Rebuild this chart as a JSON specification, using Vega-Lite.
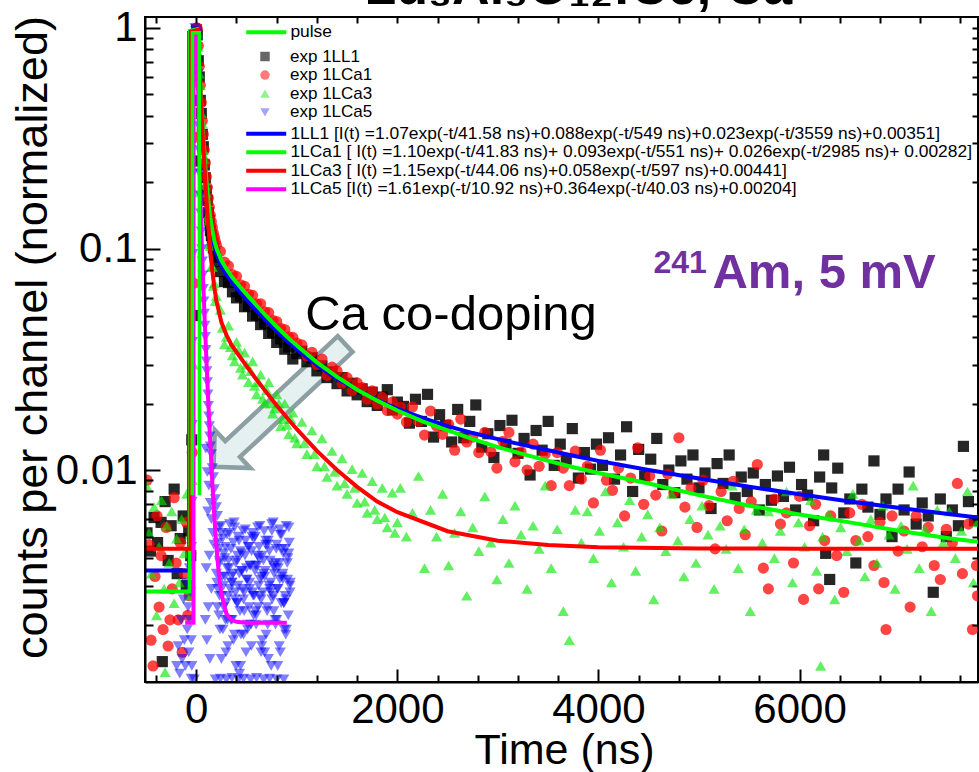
{
"$schema":"https://vega.github.io/schema/vega-lite/v6.json",
"width":833,"height":665,
"autosize":{"type":"none"},
"padding":{"left":145,"top":17,"right":1,"bottom":90},
"background":"white",
"config":{"view":{"stroke":"black","strokeWidth":2},"font":"Liberation Sans"},
"datasets":{
"fits":[
{"s":"f1","t":-510,"v":0.00351},{"s":"f1","t":-72,"v":0.00351},{"s":"f1","t":-70,"v":0.95},{"s":"f1","t":10,"v":0.954},{"s":"f1","t":20,"v":0.773},{"s":"f1","t":30,"v":0.63},{"s":"f1","t":40,"v":0.517},{"s":"f1","t":50,"v":0.428},{"s":"f1","t":60,"v":0.358},{"s":"f1","t":70,"v":0.302},{"s":"f1","t":80,"v":0.258},{"s":"f1","t":90,"v":0.223},{"s":"f1","t":100,"v":0.196},{"s":"f1","t":120,"v":0.156},{"s":"f1","t":140,"v":0.131},{"s":"f1","t":160,"v":0.114},{"s":"f1","t":180,"v":0.103},{"s":"f1","t":200,"v":0.0951},{"s":"f1","t":250,"v":0.0834},{"s":"f1","t":300,"v":0.0764},{"s":"f1","t":350,"v":0.0711},{"s":"f1","t":400,"v":0.0666},{"s":"f1","t":450,"v":0.0626},{"s":"f1","t":500,"v":0.0589},{"s":"f1","t":600,"v":0.0525},{"s":"f1","t":700,"v":0.047},{"s":"f1","t":800,"v":0.0424},{"s":"f1","t":900,"v":0.0385},{"s":"f1","t":1000,"v":0.0351},{"s":"f1","t":1200,"v":0.0298},{"s":"f1","t":1400,"v":0.0259},{"s":"f1","t":1600,"v":0.023},{"s":"f1","t":1800,"v":0.0207},{"s":"f1","t":2000,"v":0.0189},{"s":"f1","t":2250,"v":0.0172},{"s":"f1","t":2500,"v":0.0158},{"s":"f1","t":2750,"v":0.0147},{"s":"f1","t":3000,"v":0.0138},{"s":"f1","t":3250,"v":0.013},{"s":"f1","t":3500,"v":0.0123},{"s":"f1","t":3750,"v":0.0116},{"s":"f1","t":4000,"v":0.011},{"s":"f1","t":4500,"v":0.01},{"s":"f1","t":5000,"v":0.00915},{"s":"f1","t":5500,"v":0.00841},{"s":"f1","t":6000,"v":0.00777},{"s":"f1","t":6500,"v":0.00721},{"s":"f1","t":7000,"v":0.00673},{"s":"f1","t":7500,"v":0.00631},{"s":"f1","t":7780,"v":0.0061},
{"s":"f2","t":-510,"v":0.00282},{"s":"f2","t":-66,"v":0.00282},{"s":"f2","t":-64,"v":0.97},{"s":"f2","t":10,"v":0.986},{"s":"f2","t":20,"v":0.8},{"s":"f2","t":30,"v":0.654},{"s":"f2","t":40,"v":0.538},{"s":"f2","t":50,"v":0.446},{"s":"f2","t":60,"v":0.374},{"s":"f2","t":70,"v":0.317},{"s":"f2","t":80,"v":0.271},{"s":"f2","t":90,"v":0.235},{"s":"f2","t":100,"v":0.206},{"s":"f2","t":120,"v":0.165},{"s":"f2","t":140,"v":0.138},{"s":"f2","t":160,"v":0.121},{"s":"f2","t":180,"v":0.109},{"s":"f2","t":200,"v":0.101},{"s":"f2","t":250,"v":0.0886},{"s":"f2","t":300,"v":0.0812},{"s":"f2","t":350,"v":0.0752},{"s":"f2","t":400,"v":0.0705},{"s":"f2","t":450,"v":0.0663},{"s":"f2","t":500,"v":0.0623},{"s":"f2","t":600,"v":0.0555},{"s":"f2","t":700,"v":0.0495},{"s":"f2","t":800,"v":0.0445},{"s":"f2","t":900,"v":0.0402},{"s":"f2","t":1000,"v":0.0366},{"s":"f2","t":1200,"v":0.0307},{"s":"f2","t":1400,"v":0.0264},{"s":"f2","t":1600,"v":0.0231},{"s":"f2","t":1800,"v":0.0206},{"s":"f2","t":2000,"v":0.0186},{"s":"f2","t":2250,"v":0.0166},{"s":"f2","t":2500,"v":0.0151},{"s":"f2","t":2750,"v":0.0138},{"s":"f2","t":3000,"v":0.0127},{"s":"f2","t":3250,"v":0.0118},{"s":"f2","t":3500,"v":0.011},{"s":"f2","t":3750,"v":0.0103},{"s":"f2","t":4000,"v":0.0097},{"s":"f2","t":4500,"v":0.0087},{"s":"f2","t":5000,"v":0.0077},{"s":"f2","t":5500,"v":0.0069},{"s":"f2","t":6000,"v":0.0063},{"s":"f2","t":6500,"v":0.0058},{"s":"f2","t":7000,"v":0.0053},{"s":"f2","t":7500,"v":0.0049},{"s":"f2","t":7780,"v":0.00474},
{"s":"f3","t":-510,"v":0.00441},{"s":"f3","t":-56,"v":0.00441},{"s":"f3","t":-54,"v":0.96},{"s":"f3","t":10,"v":0.978},{"s":"f3","t":20,"v":0.791},{"s":"f3","t":30,"v":0.642},{"s":"f3","t":40,"v":0.5225},{"s":"f3","t":50,"v":0.427},{"s":"f3","t":60,"v":0.3515},{"s":"f3","t":70,"v":0.2908},{"s":"f3","t":80,"v":0.2422},{"s":"f3","t":90,"v":0.2034},{"s":"f3","t":100,"v":0.1724},{"s":"f3","t":110,"v":0.1473},{"s":"f3","t":120,"v":0.1273},{"s":"f3","t":130,"v":0.1111},{"s":"f3","t":140,"v":0.0982},{"s":"f3","t":150,"v":0.0877},{"s":"f3","t":160,"v":0.0793},{"s":"f3","t":180,"v":0.0666},{"s":"f3","t":200,"v":0.0582},{"s":"f3","t":250,"v":0.0466},{"s":"f3","t":300,"v":0.0408},{"s":"f3","t":350,"v":0.0368},{"s":"f3","t":400,"v":0.0342},{"s":"f3","t":500,"v":0.0295},{"s":"f3","t":600,"v":0.0256},{"s":"f3","t":700,"v":0.0224},{"s":"f3","t":800,"v":0.0196},{"s":"f3","t":900,"v":0.0173},{"s":"f3","t":1000,"v":0.0153},{"s":"f3","t":1200,"v":0.0122},{"s":"f3","t":1400,"v":0.01},{"s":"f3","t":1600,"v":0.0084},{"s":"f3","t":1800,"v":0.0072},{"s":"f3","t":2000,"v":0.00645},{"s":"f3","t":2500,"v":0.00529},{"s":"f3","t":3000,"v":0.00479},{"s":"f3","t":3500,"v":0.00458},{"s":"f3","t":4000,"v":0.00448},{"s":"f3","t":5000,"v":0.00442},{"s":"f3","t":6000,"v":0.00441},{"s":"f3","t":7780,"v":0.00441},
{"s":"f4","t":-110,"v":0.00204},{"s":"f4","t":-28,"v":0.00204},{"s":"f4","t":-26,"v":0.93},{"s":"f4","t":10,"v":0.93},{"s":"f4","t":15,"v":0.66},{"s":"f4","t":20,"v":0.481},{"s":"f4","t":25,"v":0.36},{"s":"f4","t":30,"v":0.277},{"s":"f4","t":35,"v":0.219},{"s":"f4","t":40,"v":0.177},{"s":"f4","t":50,"v":0.123},{"s":"f4","t":60,"v":0.0899},{"s":"f4","t":70,"v":0.068},{"s":"f4","t":80,"v":0.0525},{"s":"f4","t":90,"v":0.0408},{"s":"f4","t":100,"v":0.0321},{"s":"f4","t":110,"v":0.0254},{"s":"f4","t":120,"v":0.0202},{"s":"f4","t":130,"v":0.0162},{"s":"f4","t":140,"v":0.0131},{"s":"f4","t":160,"v":0.0087},{"s":"f4","t":180,"v":0.0061},{"s":"f4","t":200,"v":0.0045},{"s":"f4","t":225,"v":0.00336},{"s":"f4","t":250,"v":0.00275},{"s":"f4","t":300,"v":0.00224},{"s":"f4","t":350,"v":0.0021},{"s":"f4","t":400,"v":0.00206},{"s":"f4","t":500,"v":0.00204},{"s":"f4","t":900,"v":0.00204}
],
"pulse":[{"s":"pulse","t":-40,"v":0.0077},{"s":"pulse","t":-38,"v":0.95},{"s":"pulse","t":30,"v":0.95},{"s":"pulse","t":32,"v":0.0077}],
"pts":[
{"s":"a","t":-490,"v":0.0052},{"s":"a","t":-455,"v":0.0043},{"s":"a","t":-420,"v":0.0061},{"s":"a","t":-385,"v":0.0047},{"s":"a","t":-350,"v":0.0058},{"s":"a","t":-338,"v":0.00136},{"s":"a","t":-310,"v":0.0072},{"s":"a","t":-280,"v":0.0039},{"s":"a","t":-250,"v":0.0056},{"s":"a","t":-220,"v":0.0082},{"s":"a","t":-190,"v":0.0034},{"s":"a","t":-160,"v":0.0049},{"s":"a","t":-130,"v":0.0062},{"s":"a","t":-100,"v":0.003},{"s":"a","t":-75,"v":0.0053},{"s":"a","t":-55,"v":0.0041},{"s":"a","t":-45,"v":0.0137},{"s":"a","t":-30,"v":0.05},{"s":"a","t":-15,"v":0.25},{"s":"a","t":-5,"v":0.72},{"s":"a","t":2,"v":0.98},
{"s":"a","t":10,"v":0.93},{"s":"a","t":20,"v":0.71},{"s":"a","t":30,"v":0.6},{"s":"a","t":40,"v":0.47},{"s":"a","t":50,"v":0.41},{"s":"a","t":60,"v":0.33},{"s":"a","t":70,"v":0.29},{"s":"a","t":80,"v":0.24},{"s":"a","t":90,"v":0.21},{"s":"a","t":100,"v":0.183},{"s":"a","t":110,"v":0.166},{"s":"a","t":120,"v":0.146},{"s":"a","t":130,"v":0.135},{"s":"a","t":140,"v":0.121},{"s":"a","t":150,"v":0.115},{"s":"a","t":160,"v":0.106},{"s":"a","t":170,"v":0.101},{"s":"a","t":180,"v":0.096},{"s":"a","t":190,"v":0.092},{"s":"a","t":200,"v":0.088},
{"s":"a","t":240,"v":0.079},{"s":"a","t":280,"v":0.0712},{"s":"a","t":320,"v":0.0705},{"s":"a","t":360,"v":0.064},{"s":"a","t":400,"v":0.0601},{"s":"a","t":440,"v":0.0612},{"s":"a","t":480,"v":0.0548},{"s":"a","t":520,"v":0.0552},{"s":"a","t":560,"v":0.0497},{"s":"a","t":600,"v":0.0503},{"s":"a","t":640,"v":0.0455},{"s":"a","t":680,"v":0.0462},{"s":"a","t":720,"v":0.0415},{"s":"a","t":760,"v":0.0421},{"s":"a","t":800,"v":0.0378},{"s":"a","t":840,"v":0.0392},{"s":"a","t":880,"v":0.0352},{"s":"a","t":920,"v":0.036},{"s":"a","t":960,"v":0.0318},{"s":"a","t":1000,"v":0.0336},
{"s":"a","t":1050,"v":0.0345},{"s":"a","t":1100,"v":0.0309},{"s":"a","t":1150,"v":0.0322},{"s":"a","t":1200,"v":0.0281},{"s":"a","t":1250,"v":0.0296},{"s":"a","t":1300,"v":0.0262},{"s":"a","t":1350,"v":0.0278},{"s":"a","t":1400,"v":0.0246},{"s":"a","t":1450,"v":0.0262},{"s":"a","t":1500,"v":0.0228},{"s":"a","t":1550,"v":0.0247},{"s":"a","t":1600,"v":0.0219},{"s":"a","t":1650,"v":0.0233},{"s":"a","t":1700,"v":0.0204},{"s":"a","t":1750,"v":0.0225},{"s":"a","t":1800,"v":0.0196},{"s":"a","t":1850,"v":0.0214},{"s":"a","t":1900,"v":0.0231},{"s":"a","t":1950,"v":0.0187},{"s":"a","t":2000,"v":0.0203},
{"s":"a","t":2060,"v":0.0194},{"s":"a","t":2120,"v":0.0163},{"s":"a","t":2180,"v":0.0209},{"s":"a","t":2240,"v":0.0166},{"s":"a","t":2300,"v":0.022},{"s":"a","t":2360,"v":0.0141},{"s":"a","t":2420,"v":0.0178},{"s":"a","t":2480,"v":0.0159},{"s":"a","t":2540,"v":0.0134},{"s":"a","t":2600,"v":0.0188},{"s":"a","t":2660,"v":0.014},{"s":"a","t":2720,"v":0.0166},{"s":"a","t":2780,"v":0.0197},{"s":"a","t":2840,"v":0.0127},{"s":"a","t":2900,"v":0.0146},{"s":"a","t":2960,"v":0.0114},{"s":"a","t":3020,"v":0.0159},{"s":"a","t":3080,"v":0.0131},{"s":"a","t":3140,"v":0.0168},{"s":"a","t":3200,"v":0.0119},{"s":"a","t":3260,"v":0.0139},{"s":"a","t":3320,"v":0.0095},{"s":"a","t":3380,"v":0.0151},{"s":"a","t":3440,"v":0.0123},{"s":"a","t":3500,"v":0.0166},{"s":"a","t":3560,"v":0.0105},{"s":"a","t":3620,"v":0.0131},{"s":"a","t":3680,"v":0.0112},{"s":"a","t":3740,"v":0.0154},{"s":"a","t":3800,"v":0.0092},{"s":"a","t":3860,"v":0.012},{"s":"a","t":3920,"v":0.0101},{"s":"a","t":3980,"v":0.0131},{"s":"a","t":4040,"v":0.0105},{"s":"a","t":4100,"v":0.014},{"s":"a","t":4160,"v":0.0091},{"s":"a","t":4220,"v":0.0117},{"s":"a","t":4280,"v":0.0157},{"s":"a","t":4340,"v":0.008},{"s":"a","t":4400,"v":0.0124},{"s":"a","t":4460,"v":0.0094},{"s":"a","t":4520,"v":0.0112},{"s":"a","t":4580,"v":0.0139},{"s":"a","t":4640,"v":0.0086},{"s":"a","t":4700,"v":0.01},{"s":"a","t":4760,"v":0.0079},{"s":"a","t":4820,"v":0.011},{"s":"a","t":4880,"v":0.0091},{"s":"a","t":4940,"v":0.0117},{"s":"a","t":5000,"v":0.0083},{"s":"a","t":5060,"v":0.0097},{"s":"a","t":5120,"v":0.0067},{"s":"a","t":5180,"v":0.0107},{"s":"a","t":5240,"v":0.0087},{"s":"a","t":5300,"v":0.0117},{"s":"a","t":5360,"v":0.0075},{"s":"a","t":5420,"v":0.0093},{"s":"a","t":5480,"v":0.008},{"s":"a","t":5540,"v":0.0097},{"s":"a","t":5600,"v":0.0066},{"s":"a","t":5660,"v":0.0086},{"s":"a","t":5720,"v":0.0073},{"s":"a","t":5780,"v":0.0094},{"s":"a","t":5840,"v":0.0076},{"s":"a","t":5900,"v":0.0103},{"s":"a","t":5960,"v":0.0066},{"s":"a","t":6020,"v":0.0086},{"s":"a","t":6080,"v":0.0077},{"s":"a","t":6140,"v":0.0059},{"s":"a","t":6200,"v":0.0093},{"s":"a","t":6240,"v":0.0117},{"s":"a","t":6260,"v":0.0042},{"s":"a","t":6300,"v":0.0032},{"s":"a","t":6320,"v":0.0083},{"s":"a","t":6380,"v":0.0102},{"s":"a","t":6440,"v":0.0064},{"s":"a","t":6500,"v":0.0074},{"s":"a","t":6560,"v":0.0038},{"s":"a","t":6620,"v":0.0082},{"s":"a","t":6680,"v":0.0068},{"s":"a","t":6740,"v":0.011},{"s":"a","t":6800,"v":0.0063},{"s":"a","t":6860,"v":0.0074},{"s":"a","t":6920,"v":0.005},{"s":"a","t":6980,"v":0.0082},{"s":"a","t":7040,"v":0.0066},{"s":"a","t":7090,"v":0.0098},{"s":"a","t":7160,"v":0.0057},{"s":"a","t":7220,"v":0.0071},{"s":"a","t":7280,"v":0.0062},{"s":"a","t":7330,"v":0.0028},{"s":"a","t":7400,"v":0.0074},{"s":"a","t":7460,"v":0.005},{"s":"a","t":7520,"v":0.0066},{"s":"a","t":7580,"v":0.0056},{"s":"a","t":7630,"v":0.0128},{"s":"a","t":7680,"v":0.0072},{"s":"a","t":7740,"v":0.0059},
{"s":"b","t":-490,"v":0.009},{"s":"b","t":-470,"v":0.0046},{"s":"b","t":-450,"v":0.0017},{"s":"b","t":-430,"v":0.0013},{"s":"b","t":-410,"v":0.0033},{"s":"b","t":-390,"v":0.0062},{"s":"b","t":-370,"v":0.0024},{"s":"b","t":-350,"v":0.0041},{"s":"b","t":-330,"v":0.0019},{"s":"b","t":-300,"v":0.0055},{"s":"b","t":-280,"v":0.0016},{"s":"b","t":-262,"v":0.0021},{"s":"b","t":-240,"v":0.0029},{"s":"b","t":-220,"v":0.0075},{"s":"b","t":-200,"v":0.0038},{"s":"b","t":-180,"v":0.0021},{"s":"b","t":-160,"v":0.0047},{"s":"b","t":-140,"v":0.0015},{"s":"b","t":-120,"v":0.0034},{"s":"b","t":-100,"v":0.0058},{"s":"b","t":-85,"v":0.0022},{"s":"b","t":-70,"v":0.0027},{"s":"b","t":-55,"v":0.0042},{"s":"b","t":-40,"v":0.012},{"s":"b","t":-25,"v":0.07},{"s":"b","t":-12,"v":0.32},{"s":"b","t":-3,"v":0.8},{"s":"b","t":3,"v":1.0},
{"s":"b","t":10,"v":0.99},{"s":"b","t":20,"v":0.83},{"s":"b","t":30,"v":0.67},{"s":"b","t":40,"v":0.55},{"s":"b","t":50,"v":0.46},{"s":"b","t":60,"v":0.38},{"s":"b","t":70,"v":0.33},{"s":"b","t":80,"v":0.28},{"s":"b","t":90,"v":0.245},{"s":"b","t":100,"v":0.212},{"s":"b","t":110,"v":0.19},{"s":"b","t":120,"v":0.17},{"s":"b","t":130,"v":0.155},{"s":"b","t":140,"v":0.142},{"s":"b","t":150,"v":0.133},{"s":"b","t":160,"v":0.125},{"s":"b","t":170,"v":0.118},{"s":"b","t":180,"v":0.113},{"s":"b","t":190,"v":0.108},{"s":"b","t":200,"v":0.104},
{"s":"b","t":240,"v":0.0975},{"s":"b","t":280,"v":0.0872},{"s":"b","t":320,"v":0.0838},{"s":"b","t":360,"v":0.0765},{"s":"b","t":400,"v":0.0752},{"s":"b","t":440,"v":0.0689},{"s":"b","t":480,"v":0.0678},{"s":"b","t":520,"v":0.0624},{"s":"b","t":560,"v":0.0617},{"s":"b","t":600,"v":0.0565},{"s":"b","t":640,"v":0.0565},{"s":"b","t":680,"v":0.052},{"s":"b","t":720,"v":0.0515},{"s":"b","t":760,"v":0.0475},{"s":"b","t":800,"v":0.047},{"s":"b","t":840,"v":0.0437},{"s":"b","t":880,"v":0.0432},{"s":"b","t":920,"v":0.04},{"s":"b","t":960,"v":0.0398},{"s":"b","t":1000,"v":0.0375},
{"s":"b","t":1050,"v":0.0368},{"s":"b","t":1100,"v":0.0329},{"s":"b","t":1150,"v":0.0341},{"s":"b","t":1200,"v":0.03},{"s":"b","t":1250,"v":0.0318},{"s":"b","t":1300,"v":0.0268},{"s":"b","t":1350,"v":0.0292},{"s":"b","t":1400,"v":0.0281},{"s":"b","t":1450,"v":0.0247},{"s":"b","t":1500,"v":0.0262},{"s":"b","t":1550,"v":0.0229},{"s":"b","t":1600,"v":0.0248},{"s":"b","t":1650,"v":0.0236},{"s":"b","t":1700,"v":0.0209},{"s":"b","t":1750,"v":0.0228},{"s":"b","t":1800,"v":0.0199},{"s":"b","t":1850,"v":0.0213},{"s":"b","t":1900,"v":0.0186},{"s":"b","t":1950,"v":0.0203},{"s":"b","t":2000,"v":0.0179},
{"s":"b","t":2030,"v":0.0193},{"s":"b","t":2090,"v":0.0165},{"s":"b","t":2150,"v":0.0193},{"s":"b","t":2210,"v":0.0166},{"s":"b","t":2270,"v":0.0144},{"s":"b","t":2330,"v":0.0185},{"s":"b","t":2390,"v":0.0158},{"s":"b","t":2450,"v":0.0145},{"s":"b","t":2510,"v":0.0161},{"s":"b","t":2570,"v":0.0123},{"s":"b","t":2630,"v":0.017},{"s":"b","t":2690,"v":0.0134},{"s":"b","t":2750,"v":0.0141},{"s":"b","t":2810,"v":0.012},{"s":"b","t":2870,"v":0.0148},{"s":"b","t":2930,"v":0.0121},{"s":"b","t":2990,"v":0.0102},{"s":"b","t":3050,"v":0.0135},{"s":"b","t":3110,"v":0.0148},{"s":"b","t":3170,"v":0.0109},{"s":"b","t":3230,"v":0.0121},{"s":"b","t":3290,"v":0.01},{"s":"b","t":3350,"v":0.0131},{"s":"b","t":3410,"v":0.0104},{"s":"b","t":3470,"v":0.0118},{"s":"b","t":3530,"v":0.0085},{"s":"b","t":3590,"v":0.012},{"s":"b","t":3650,"v":0.0102},{"s":"b","t":3710,"v":0.0085},{"s":"b","t":3770,"v":0.0122},{"s":"b","t":3830,"v":0.0091},{"s":"b","t":3890,"v":0.0104},{"s":"b","t":3950,"v":0.0071},{"s":"b","t":4020,"v":0.0123},{"s":"b","t":4080,"v":0.009},{"s":"b","t":4140,"v":0.0081},{"s":"b","t":4200,"v":0.0102},{"s":"b","t":4260,"v":0.0062},{"s":"b","t":4320,"v":0.0092},{"s":"b","t":4390,"v":0.0126},{"s":"b","t":4450,"v":0.007},{"s":"b","t":4510,"v":0.0094},{"s":"b","t":4570,"v":0.0077},{"s":"b","t":4630,"v":0.0053},{"s":"b","t":4690,"v":0.0096},{"s":"b","t":4750,"v":0.0079},{"s":"b","t":4800,"v":0.014},{"s":"b","t":4860,"v":0.0068},{"s":"b","t":4920,"v":0.0083},{"s":"b","t":4980,"v":0.0055},{"s":"b","t":5040,"v":0.009},{"s":"b","t":5100,"v":0.0069},{"s":"b","t":5160,"v":0.0044},{"s":"b","t":5220,"v":0.008},{"s":"b","t":5280,"v":0.0059},{"s":"b","t":5340,"v":0.0089},{"s":"b","t":5400,"v":0.0067},{"s":"b","t":5460,"v":0.0051},{"s":"b","t":5520,"v":0.0072},{"s":"b","t":5580,"v":0.0106},{"s":"b","t":5640,"v":0.0036},{"s":"b","t":5690,"v":0.0029},{"s":"b","t":5750,"v":0.0074},{"s":"b","t":5810,"v":0.0057},{"s":"b","t":5870,"v":0.0064},{"s":"b","t":5940,"v":0.0038},{"s":"b","t":6000,"v":0.0076},{"s":"b","t":6040,"v":0.0026},{"s":"b","t":6100,"v":0.0056},{"s":"b","t":6160,"v":0.007},{"s":"b","t":6190,"v":0.0029},{"s":"b","t":6250,"v":0.0048},{"s":"b","t":6310,"v":0.0062},{"s":"b","t":6370,"v":0.0041},{"s":"b","t":6440,"v":0.0028},{"s":"b","t":6500,"v":0.0064},{"s":"b","t":6560,"v":0.0048},{"s":"b","t":6620,"v":0.007},{"s":"b","t":6680,"v":0.005},{"s":"b","t":6740,"v":0.0037},{"s":"b","t":6800,"v":0.0058},{"s":"b","t":6840,"v":0.0031},{"s":"b","t":6860,"v":0.0019},{"s":"b","t":6920,"v":0.0062},{"s":"b","t":6980,"v":0.0043},{"s":"b","t":7040,"v":0.0053},{"s":"b","t":7100,"v":0.0024},{"s":"b","t":7160,"v":0.0062},{"s":"b","t":7220,"v":0.0045},{"s":"b","t":7280,"v":0.0055},{"s":"b","t":7340,"v":0.0037},{"s":"b","t":7400,"v":0.0032},{"s":"b","t":7460,"v":0.0054},{"s":"b","t":7520,"v":0.0047},{"s":"b","t":7570,"v":0.0087},{"s":"b","t":7620,"v":0.0034},{"s":"b","t":7680,"v":0.0057},{"s":"b","t":7720,"v":0.0019},{"s":"b","t":7760,"v":0.0037},{"s":"b","t":7770,"v":0.0027},
{"s":"c","t":-495,"v":0.0085},{"s":"c","t":-470,"v":0.0052},{"s":"c","t":-445,"v":0.0034},{"s":"c","t":-420,"v":0.0068},{"s":"c","t":-395,"v":0.0022},{"s":"c","t":-370,"v":0.0045},{"s":"c","t":-345,"v":0.0073},{"s":"c","t":-320,"v":0.0029},{"s":"c","t":-310,"v":0.00122},{"s":"c","t":-295,"v":0.0056},{"s":"c","t":-270,"v":0.0038},{"s":"c","t":-245,"v":0.0065},{"s":"c","t":-220,"v":0.0025},{"s":"c","t":-195,"v":0.0049},{"s":"c","t":-170,"v":0.0031},{"s":"c","t":-145,"v":0.006},{"s":"c","t":-120,"v":0.0042},{"s":"c","t":-95,"v":0.0078},{"s":"c","t":-75,"v":0.0027},{"s":"c","t":-55,"v":0.0051},{"s":"c","t":-40,"v":0.009},{"s":"c","t":-28,"v":0.03},{"s":"c","t":-15,"v":0.18},{"s":"c","t":-5,"v":0.6},{"s":"c","t":3,"v":0.97},
{"s":"c","t":10,"v":0.95},{"s":"c","t":20,"v":0.82},{"s":"c","t":30,"v":0.62},{"s":"c","t":40,"v":0.55},{"s":"c","t":50,"v":0.41},{"s":"c","t":60,"v":0.37},{"s":"c","t":70,"v":0.28},{"s":"c","t":80,"v":0.255},{"s":"c","t":90,"v":0.195},{"s":"c","t":100,"v":0.18},{"s":"c","t":110,"v":0.14},{"s":"c","t":120,"v":0.134},{"s":"c","t":130,"v":0.105},{"s":"c","t":140,"v":0.103},{"s":"c","t":150,"v":0.083},{"s":"c","t":160,"v":0.083},{"s":"c","t":170,"v":0.068},{"s":"c","t":180,"v":0.07},{"s":"c","t":190,"v":0.058},{"s":"c","t":200,"v":0.061},
{"s":"c","t":240,"v":0.053},{"s":"c","t":280,"v":0.037},{"s":"c","t":320,"v":0.045},{"s":"c","t":360,"v":0.033},{"s":"c","t":400,"v":0.038},{"s":"c","t":440,"v":0.029},{"s":"c","t":480,"v":0.034},{"s":"c","t":520,"v":0.025},{"s":"c","t":560,"v":0.031},{"s":"c","t":600,"v":0.022},{"s":"c","t":640,"v":0.027},{"s":"c","t":680,"v":0.02},{"s":"c","t":720,"v":0.025},{"s":"c","t":760,"v":0.018},{"s":"c","t":800,"v":0.022},{"s":"c","t":840,"v":0.0158},{"s":"c","t":880,"v":0.02},{"s":"c","t":920,"v":0.0145},{"s":"c","t":960,"v":0.0182},{"s":"c","t":1000,"v":0.0132},
{"s":"c","t":260,"v":0.044},{"s":"c","t":300,"v":0.04},{"s":"c","t":340,"v":0.036},{"s":"c","t":380,"v":0.031},{"s":"c","t":420,"v":0.035},{"s":"c","t":460,"v":0.027},{"s":"c","t":500,"v":0.03},{"s":"c","t":540,"v":0.028},{"s":"c","t":580,"v":0.024},{"s":"c","t":620,"v":0.025},{"s":"c","t":660,"v":0.021},{"s":"c","t":700,"v":0.023},{"s":"c","t":740,"v":0.02},{"s":"c","t":780,"v":0.019},{"s":"c","t":820,"v":0.02},{"s":"c","t":860,"v":0.017},{"s":"c","t":900,"v":0.016},{"s":"c","t":940,"v":0.017},{"s":"c","t":980,"v":0.014},
{"s":"c","t":1050,"v":0.0165},{"s":"c","t":1100,"v":0.0118},{"s":"c","t":1150,"v":0.0151},{"s":"c","t":1200,"v":0.0104},{"s":"c","t":1250,"v":0.0139},{"s":"c","t":1300,"v":0.0093},{"s":"c","t":1350,"v":0.0122},{"s":"c","t":1400,"v":0.0085},{"s":"c","t":1450,"v":0.0113},{"s":"c","t":1500,"v":0.0078},{"s":"c","t":1550,"v":0.0101},{"s":"c","t":1600,"v":0.0071},{"s":"c","t":1650,"v":0.0097},{"s":"c","t":1700,"v":0.0064},{"s":"c","t":1750,"v":0.0089},{"s":"c","t":1800,"v":0.006},{"s":"c","t":1850,"v":0.0083},{"s":"c","t":1900,"v":0.0055},{"s":"c","t":1950,"v":0.0079},{"s":"c","t":2000,"v":0.0058},
{"s":"c","t":1075,"v":0.0132},{"s":"c","t":1175,"v":0.0118},{"s":"c","t":1275,"v":0.0104},{"s":"c","t":1375,"v":0.0098},{"s":"c","t":1475,"v":0.0087},{"s":"c","t":1575,"v":0.0083},{"s":"c","t":1675,"v":0.0072},{"s":"c","t":1775,"v":0.0066},{"s":"c","t":1875,"v":0.0061},{"s":"c","t":1975,"v":0.0052},
{"s":"c","t":2030,"v":0.0083},{"s":"c","t":2090,"v":0.005},{"s":"c","t":2150,"v":0.0064},{"s":"c","t":2210,"v":0.0094},{"s":"c","t":2270,"v":0.0036},{"s":"c","t":2330,"v":0.0066},{"s":"c","t":2390,"v":0.005},{"s":"c","t":2450,"v":0.0078},{"s":"c","t":2510,"v":0.0037},{"s":"c","t":2570,"v":0.0052},{"s":"c","t":2630,"v":0.0065},{"s":"c","t":2690,"v":0.0027},{"s":"c","t":2750,"v":0.0055},{"s":"c","t":2810,"v":0.0043},{"s":"c","t":2870,"v":0.0076},{"s":"c","t":2930,"v":0.0047},{"s":"c","t":2990,"v":0.0032},{"s":"c","t":3050,"v":0.006},{"s":"c","t":3110,"v":0.0038},{"s":"c","t":3170,"v":0.0069},{"s":"c","t":3230,"v":0.0051},{"s":"c","t":3290,"v":0.0029},{"s":"c","t":3350,"v":0.0056},{"s":"c","t":3410,"v":0.0044},{"s":"c","t":3470,"v":0.0085},{"s":"c","t":3530,"v":0.0036},{"s":"c","t":3590,"v":0.0054},{"s":"c","t":3650,"v":0.0023},{"s":"c","t":3710,"v":0.0017},{"s":"c","t":3770,"v":0.0066},{"s":"c","t":3830,"v":0.0047},{"s":"c","t":3890,"v":0.0065},{"s":"c","t":3950,"v":0.004},{"s":"c","t":4010,"v":0.0053},{"s":"c","t":4070,"v":0.008},{"s":"c","t":4130,"v":0.0031},{"s":"c","t":4190,"v":0.0058},{"s":"c","t":4250,"v":0.0045},{"s":"c","t":4310,"v":0.0073},{"s":"c","t":4370,"v":0.0035},{"s":"c","t":4430,"v":0.005},{"s":"c","t":4490,"v":0.0063},{"s":"c","t":4550,"v":0.0026},{"s":"c","t":4610,"v":0.0055},{"s":"c","t":4670,"v":0.0043},{"s":"c","t":4730,"v":0.0078},{"s":"c","t":4790,"v":0.0048},{"s":"c","t":4850,"v":0.0033},{"s":"c","t":4910,"v":0.006},{"s":"c","t":4970,"v":0.0038},{"s":"c","t":5030,"v":0.0069},{"s":"c","t":5090,"v":0.0051},{"s":"c","t":5150,"v":0.0029},{"s":"c","t":5210,"v":0.0056},{"s":"c","t":5270,"v":0.0044},{"s":"c","t":5330,"v":0.0085},{"s":"c","t":5390,"v":0.0036},{"s":"c","t":5450,"v":0.0054},{"s":"c","t":5510,"v":0.0023},{"s":"c","t":5570,"v":0.0066},{"s":"c","t":5630,"v":0.0047},{"s":"c","t":5690,"v":0.0065},{"s":"c","t":5750,"v":0.004},{"s":"c","t":5810,"v":0.0053},{"s":"c","t":5870,"v":0.008},{"s":"c","t":5930,"v":0.0031},{"s":"c","t":5990,"v":0.0058},{"s":"c","t":6050,"v":0.0045},{"s":"c","t":6110,"v":0.0073},{"s":"c","t":6170,"v":0.0035},{"s":"c","t":6210,"v":0.0013},{"s":"c","t":6230,"v":0.005},{"s":"c","t":6290,"v":0.0063},{"s":"c","t":6350,"v":0.0026},{"s":"c","t":6410,"v":0.0055},{"s":"c","t":6470,"v":0.0043},{"s":"c","t":6530,"v":0.0078},{"s":"c","t":6590,"v":0.0048},{"s":"c","t":6650,"v":0.0033},{"s":"c","t":6710,"v":0.006},{"s":"c","t":6770,"v":0.0038},{"s":"c","t":6830,"v":0.0069},{"s":"c","t":6890,"v":0.0051},{"s":"c","t":6950,"v":0.0029},{"s":"c","t":7010,"v":0.0056},{"s":"c","t":7070,"v":0.0044},{"s":"c","t":7130,"v":0.0085},{"s":"c","t":7190,"v":0.0036},{"s":"c","t":7250,"v":0.0054},{"s":"c","t":7310,"v":0.0023},{"s":"c","t":7370,"v":0.0066},{"s":"c","t":7430,"v":0.0047},{"s":"c","t":7490,"v":0.0065},{"s":"c","t":7550,"v":0.004},{"s":"c","t":7610,"v":0.0053},{"s":"c","t":7670,"v":0.008},{"s":"c","t":7730,"v":0.0031},{"s":"c","t":7770,"v":0.0058},
{"s":"d","t":-195,"v":0.0013},{"s":"d","t":-180,"v":0.0016},{"s":"d","t":-165,"v":0.0012},{"s":"d","t":-150,"v":0.0021},{"s":"d","t":-140,"v":0.0014},{"s":"d","t":-128,"v":0.0026},{"s":"d","t":-118,"v":0.0017},{"s":"d","t":-108,"v":0.0013},{"s":"d","t":-98,"v":0.0031},{"s":"d","t":-90,"v":0.0019},{"s":"d","t":-82,"v":0.0024},{"s":"d","t":-75,"v":0.0015},{"s":"d","t":-68,"v":0.0036},{"s":"d","t":-62,"v":0.0021},{"s":"d","t":-56,"v":0.0028},{"s":"d","t":-50,"v":0.0017},{"s":"d","t":-46,"v":0.0045},{"s":"d","t":-44,"v":0.0013},
{"s":"d","t":-42,"v":0.0072},{"s":"d","t":-40,"v":0.016},{"s":"d","t":-38,"v":0.038},{"s":"d","t":-35,"v":0.095},{"s":"d","t":-32,"v":0.22},{"s":"d","t":-29,"v":0.45},{"s":"d","t":-25,"v":0.72},{"s":"d","t":-20,"v":0.9},{"s":"d","t":-12,"v":1.0},{"s":"d","t":-4,"v":0.97},
{"s":"d","t":5,"v":0.95},{"s":"d","t":10,"v":0.88},{"s":"d","t":15,"v":0.62},{"s":"d","t":20,"v":0.47},{"s":"d","t":25,"v":0.36},{"s":"d","t":30,"v":0.28},{"s":"d","t":35,"v":0.22},{"s":"d","t":40,"v":0.175},{"s":"d","t":45,"v":0.145},{"s":"d","t":50,"v":0.12},{"s":"d","t":55,"v":0.1},{"s":"d","t":60,"v":0.088},{"s":"d","t":65,"v":0.076},{"s":"d","t":70,"v":0.066},{"s":"d","t":75,"v":0.058},{"s":"d","t":80,"v":0.051},{"s":"d","t":85,"v":0.045},{"s":"d","t":90,"v":0.04},{"s":"d","t":95,"v":0.035},{"s":"d","t":100,"v":0.031},{"s":"d","t":105,"v":0.028},{"s":"d","t":110,"v":0.025},{"s":"d","t":115,"v":0.022},{"s":"d","t":120,"v":0.0195},{"s":"d","t":125,"v":0.0175},{"s":"d","t":130,"v":0.0158},{"s":"d","t":135,"v":0.0142},{"s":"d","t":140,"v":0.0128},{"s":"d","t":150,"v":0.0118},{"s":"d","t":160,"v":0.0102},{"s":"d","t":170,"v":0.0093},{"s":"d","t":180,"v":0.0082},{"s":"d","t":190,"v":0.0074},{"s":"d","t":200,"v":0.0068},{"s":"d","t":210,"v":0.0062},{"s":"d","t":220,"v":0.0055},
{"s":"d","t":95,"v":0.0125},{"s":"d","t":110,"v":0.0098},{"s":"d","t":125,"v":0.0085},{"s":"d","t":140,"v":0.0071},{"s":"d","t":150,"v":0.006},{"s":"d","t":165,"v":0.0052},{"s":"d","t":175,"v":0.0046},{"s":"d","t":115,"v":0.0065},{"s":"d","t":130,"v":0.0041},{"s":"d","t":100,"v":0.0036},{"s":"d","t":150,"v":0.0029},{"s":"d","t":120,"v":0.0024},{"s":"d","t":90,"v":0.0021},{"s":"d","t":105,"v":0.0017},{"s":"d","t":135,"v":0.0014},
{"s":"d","t":205,"v":0.0031},{"s":"d","t":215,"v":0.0047},{"s":"d","t":225,"v":0.0022},{"s":"d","t":235,"v":0.0038},{"s":"d","t":245,"v":0.0056},{"s":"d","t":255,"v":0.0027},{"s":"d","t":265,"v":0.0019},{"s":"d","t":275,"v":0.0042},{"s":"d","t":285,"v":0.0033},{"s":"d","t":295,"v":0.0025},{"s":"d","t":305,"v":0.0051},{"s":"d","t":315,"v":0.0016},{"s":"d","t":325,"v":0.0036},{"s":"d","t":335,"v":0.0029},{"s":"d","t":345,"v":0.0044},{"s":"d","t":355,"v":0.0021},{"s":"d","t":365,"v":0.0034},{"s":"d","t":375,"v":0.0058},{"s":"d","t":385,"v":0.0026},{"s":"d","t":395,"v":0.0013},{"s":"d","t":405,"v":0.0039},{"s":"d","t":415,"v":0.003},{"s":"d","t":425,"v":0.0048},{"s":"d","t":435,"v":0.0023},{"s":"d","t":445,"v":0.0018},{"s":"d","t":455,"v":0.0035},{"s":"d","t":465,"v":0.0053},{"s":"d","t":475,"v":0.0028},{"s":"d","t":485,"v":0.0041},{"s":"d","t":495,"v":0.0015},{"s":"d","t":505,"v":0.0032},{"s":"d","t":515,"v":0.0045},{"s":"d","t":525,"v":0.0024},{"s":"d","t":535,"v":0.0037},{"s":"d","t":545,"v":0.002},{"s":"d","t":555,"v":0.005},{"s":"d","t":565,"v":0.0027},
{"s":"d","t":575,"v":0.0027},{"s":"d","t":585,"v":0.005},{"s":"d","t":595,"v":0.002},{"s":"d","t":605,"v":0.0037},{"s":"d","t":615,"v":0.0024},{"s":"d","t":625,"v":0.0045},{"s":"d","t":635,"v":0.0032},{"s":"d","t":645,"v":0.0015},{"s":"d","t":655,"v":0.0041},{"s":"d","t":665,"v":0.0028},{"s":"d","t":675,"v":0.0053},{"s":"d","t":685,"v":0.0035},{"s":"d","t":695,"v":0.0018},{"s":"d","t":705,"v":0.0023},{"s":"d","t":715,"v":0.0048},{"s":"d","t":725,"v":0.003},{"s":"d","t":735,"v":0.0039},{"s":"d","t":745,"v":0.0013},{"s":"d","t":755,"v":0.0026},{"s":"d","t":765,"v":0.0058},{"s":"d","t":775,"v":0.0034},{"s":"d","t":785,"v":0.0021},{"s":"d","t":795,"v":0.0044},{"s":"d","t":805,"v":0.0029},{"s":"d","t":815,"v":0.0036},{"s":"d","t":825,"v":0.0016},{"s":"d","t":835,"v":0.0051},{"s":"d","t":845,"v":0.0025},{"s":"d","t":855,"v":0.0033},{"s":"d","t":865,"v":0.0042},{"s":"d","t":875,"v":0.0019},{"s":"d","t":885,"v":0.0027},{"s":"d","t":895,"v":0.0056},{"s":"d","t":905,"v":0.0038},{"s":"d","t":915,"v":0.0022},{"s":"d","t":925,"v":0.0047},{"s":"d","t":935,"v":0.0031},
{"s":"d","t":210,"v":0.0024},{"s":"d","t":230,"v":0.0039},{"s":"d","t":250,"v":0.0014},{"s":"d","t":270,"v":0.003},{"s":"d","t":290,"v":0.0045},{"s":"d","t":310,"v":0.0021},{"s":"d","t":330,"v":0.0052},{"s":"d","t":350,"v":0.0033},{"s":"d","t":370,"v":0.0017},{"s":"d","t":390,"v":0.0028},{"s":"d","t":410,"v":0.0041},{"s":"d","t":430,"v":0.0012},{"s":"d","t":450,"v":0.0035},{"s":"d","t":470,"v":0.0026},{"s":"d","t":490,"v":0.0048},{"s":"d","t":510,"v":0.0019},{"s":"d","t":530,"v":0.0031},{"s":"d","t":550,"v":0.0043},{"s":"d","t":570,"v":0.0022},{"s":"d","t":590,"v":0.0037},{"s":"d","t":610,"v":0.0055},{"s":"d","t":630,"v":0.0027},{"s":"d","t":650,"v":0.0016},{"s":"d","t":670,"v":0.0034},{"s":"d","t":690,"v":0.0046},{"s":"d","t":710,"v":0.002},{"s":"d","t":730,"v":0.0029},{"s":"d","t":750,"v":0.0057},{"s":"d","t":770,"v":0.0023},{"s":"d","t":790,"v":0.0038},{"s":"d","t":810,"v":0.0013},{"s":"d","t":830,"v":0.0032},{"s":"d","t":850,"v":0.0044},{"s":"d","t":870,"v":0.0025},{"s":"d","t":890,"v":0.0018},{"s":"d","t":910,"v":0.004},{"s":"d","t":930,"v":0.003},
{"s":"d","t":200,"v":0.0034},{"s":"d","t":230,"v":0.0027},{"s":"d","t":260,"v":0.0049},{"s":"d","t":290,"v":0.0021},{"s":"d","t":320,"v":0.0039},{"s":"d","t":350,"v":0.0031},{"s":"d","t":380,"v":0.0055},{"s":"d","t":410,"v":0.0025},{"s":"d","t":440,"v":0.0043},{"s":"d","t":470,"v":0.0018},{"s":"d","t":500,"v":0.0036},{"s":"d","t":530,"v":0.0029},{"s":"d","t":560,"v":0.0052},{"s":"d","t":590,"v":0.0023},{"s":"d","t":620,"v":0.004},{"s":"d","t":650,"v":0.0033},{"s":"d","t":680,"v":0.0015},{"s":"d","t":710,"v":0.0046},{"s":"d","t":740,"v":0.0028},{"s":"d","t":770,"v":0.0037},{"s":"d","t":800,"v":0.0021},{"s":"d","t":830,"v":0.0054},{"s":"d","t":860,"v":0.0032},{"s":"d","t":890,"v":0.0026},{"s":"d","t":920,"v":0.0042},
{"s":"d","t":212,"v":0.0029},{"s":"d","t":224,"v":0.0044},{"s":"d","t":236,"v":0.0019},{"s":"d","t":248,"v":0.0052},{"s":"d","t":260,"v":0.0033},{"s":"d","t":272,"v":0.0024},{"s":"d","t":284,"v":0.004},{"s":"d","t":296,"v":0.0015},{"s":"d","t":308,"v":0.0036},{"s":"d","t":320,"v":0.0027},{"s":"d","t":332,"v":0.0057},{"s":"d","t":344,"v":0.0021},{"s":"d","t":356,"v":0.0031},{"s":"d","t":368,"v":0.0047},{"s":"d","t":380,"v":0.0018},{"s":"d","t":392,"v":0.0038},{"s":"d","t":404,"v":0.0025},{"s":"d","t":416,"v":0.005},{"s":"d","t":428,"v":0.0034},{"s":"d","t":440,"v":0.0013},{"s":"d","t":452,"v":0.0042},{"s":"d","t":464,"v":0.0029},{"s":"d","t":476,"v":0.0023},{"s":"d","t":488,"v":0.0054},{"s":"d","t":500,"v":0.0032},{"s":"d","t":512,"v":0.002},{"s":"d","t":524,"v":0.0045},{"s":"d","t":536,"v":0.0037},{"s":"d","t":548,"v":0.0016},{"s":"d","t":560,"v":0.0028},{"s":"d","t":572,"v":0.0049},{"s":"d","t":584,"v":0.0035},{"s":"d","t":596,"v":0.0022},{"s":"d","t":608,"v":0.0041},{"s":"d","t":620,"v":0.003},{"s":"d","t":632,"v":0.0056},{"s":"d","t":644,"v":0.0026},{"s":"d","t":656,"v":0.0017},{"s":"d","t":668,"v":0.0039},{"s":"d","t":680,"v":0.0033},{"s":"d","t":692,"v":0.0048},{"s":"d","t":704,"v":0.0024},{"s":"d","t":716,"v":0.0014},{"s":"d","t":728,"v":0.0043},{"s":"d","t":740,"v":0.0031},{"s":"d","t":752,"v":0.0053},{"s":"d","t":764,"v":0.0027},{"s":"d","t":776,"v":0.0036},{"s":"d","t":788,"v":0.002},{"s":"d","t":800,"v":0.0046},{"s":"d","t":812,"v":0.0029},{"s":"d","t":824,"v":0.0038},{"s":"d","t":836,"v":0.0015},{"s":"d","t":848,"v":0.0051},{"s":"d","t":860,"v":0.0034},{"s":"d","t":872,"v":0.0025},{"s":"d","t":884,"v":0.0044},{"s":"d","t":896,"v":0.0019},{"s":"d","t":908,"v":0.0032},{"s":"d","t":920,"v":0.0055},{"s":"d","t":932,"v":0.0028},
{"s":"d","t":190,"v":0.00113},{"s":"d","t":240,"v":0.00114},{"s":"d","t":300,"v":0.00113},{"s":"d","t":355,"v":0.00115},{"s":"d","t":420,"v":0.00113},{"s":"d","t":470,"v":0.00114},{"s":"d","t":540,"v":0.00113},{"s":"d","t":600,"v":0.00115},{"s":"d","t":670,"v":0.00113},{"s":"d","t":730,"v":0.00114},{"s":"d","t":800,"v":0.00113},{"s":"d","t":870,"v":0.00113},{"s":"d","t":-50,"v":0.00114},{"s":"d","t":-20,"v":0.00113}
]
},
"resolve":{"scale":{"x":"shared","y":"shared"},"axis":{"x":"independent","y":"independent"}},
"layer":[
{"data":{"values":[{}]},
 "mark":{"type":"point","shape":"M-1,-0.12L0.71,-0.12L0.71,-0.29L1,0L0.71,0.29L0.71,0.12L-1,0.12Z","size":32400,"angle":137,"filled":true,"fill":"#e2eef0","stroke":"#8c9fa2","strokeWidth":4.5,"opacity":1,"fillOpacity":0.9},
 "encoding":{"x":{"datum":826,"type":"quantitative","axis":null},"y":{"datum":0.0196,"type":"quantitative","axis":null}}},
{"data":{"name":"pts"},
 "mark":{"type":"point","filled":true,"size":125,"clip":true},
 "encoding":{
  "x":{"field":"t","type":"quantitative","scale":{"domain":[-510,7775],"nice":false,"zero":false},
   "axis":{"orient":"bottom","values":[-400,0,400,800,1200,1600,2000,2400,2800,3200,3600,4000,4400,4800,5200,5600,6000,6400,6800,7200,7600],
    "labelExpr":"datum.value % 2000 === 0 ? '' + datum.value : ''",
    "tickSize":{"condition":{"test":"datum.value % 2000 === 0","value":-13},"value":-7},
    "tickWidth":2,"tickColor":"black","domainColor":"black","domainWidth":2,"grid":false,
    "labelFont":"Liberation Sans","labelFontSize":42,"labelColor":"black","labelPadding":20,"labelOverlap":false,"labelFlush":false,"labelBound":false,
    "title":"Time (ns)","titleFont":"Liberation Sans","titleFontSize":43,"titleFontWeight":"normal","titleColor":"black","titleX":419,"titleY":81,"titleBaseline":"alphabetic","titleAlign":"center","zindex":1}},
  "y":{"field":"v","type":"quantitative","scale":{"type":"log","domain":[0.0011,1.12],"nice":false},
   "axis":{"orient":"left","values":[0.002,0.003,0.004,0.005,0.006,0.007,0.008,0.009,0.01,0.02,0.03,0.04,0.05,0.06,0.07,0.08,0.09,0.1,0.2,0.3,0.4,0.5,0.6,0.7,0.8,0.9,1],
    "labelExpr":"datum.value === 1 ? '1' : datum.value === 0.1 ? '0.1' : datum.value === 0.01 ? '0.01' : ''",
    "tickSize":{"condition":{"test":"datum.value === 1 || datum.value === 0.1 || datum.value === 0.01","value":-15},"value":-8},
    "tickWidth":2,"tickColor":"black","domainColor":"black","domainWidth":2,"grid":false,
    "labelFont":"Liberation Sans","labelFontSize":42,"labelColor":"black","labelPadding":23,"labelOverlap":false,"labelFlush":false,"labelBound":false,
    "title":"counts per channel (normalized)","titleFont":"Liberation Sans","titleFontSize":45,"titleFontWeight":"normal","titleColor":"black","titleX":-99,"titleY":320,"titleBaseline":"alphabetic","titleAngle":270,"titleAlign":"center","zindex":1}},
  "fill":{"field":"s","type":"nominal","scale":{"domain":["a","b","c","d"],"range":["#000000","#ff0000","#00e600","#0000ff"]},
   "legend":{"orient":"none","legendX":111.5,"legendY":31,"title":null,"padding":0,"symbolSize":90,"labelFont":"Liberation Sans","labelFontSize":17,"labelColor":"black","labelOffset":16.5,"rowPadding":0.6,"labelLimit":1000,
    "labelExpr":"datum.label === 'a' ? 'exp 1LL1' : datum.label === 'b' ? 'exp 1LCa1' : datum.label === 'c' ? 'exp 1LCa3' : 'exp 1LCa5'"}},
  "shape":{"field":"s","type":"nominal","scale":{"domain":["a","b","c","d"],"range":["square","circle","triangle-up","triangle-down"]},
   "legend":{"orient":"none","legendX":111.5,"legendY":31,"title":null,"padding":0,"symbolSize":90,"labelFont":"Liberation Sans","labelFontSize":17,"labelColor":"black","labelOffset":16.5,"rowPadding":0.6,"labelLimit":1000,
    "labelExpr":"datum.label === 'a' ? 'exp 1LL1' : datum.label === 'b' ? 'exp 1LCa1' : datum.label === 'c' ? 'exp 1LCa3' : 'exp 1LCa5'"}},
  "opacity":{"field":"s","type":"nominal","scale":{"domain":["a","b","c","d"],"range":[0.85,0.5,0.5,0.5]},
   "legend":{"orient":"none","legendX":111.5,"legendY":31,"title":null,"padding":0,"symbolSize":90,"labelFont":"Liberation Sans","labelFontSize":17,"labelColor":"black","labelOffset":16.5,"rowPadding":0.6,"labelLimit":1000,
    "labelExpr":"datum.label === 'a' ? 'exp 1LL1' : datum.label === 'b' ? 'exp 1LCa1' : datum.label === 'c' ? 'exp 1LCa3' : 'exp 1LCa5'"}}
 }},
{"data":{"name":"fits"},
 "mark":{"type":"line","strokeWidth":4,"clip":true},
 "encoding":{
  "x":{"field":"t","type":"quantitative","axis":{"orient":"top","values":[-400,0,400,800,1200,1600,2000,2400,2800,3200,3600,4000,4400,4800,5200,5600,6000,6400,6800,7200,7600],"labels":false,"title":null,"domain":false,"grid":false,"tickSize":-6,"tickWidth":2,"tickColor":"black","zindex":1}},
  "y":{"field":"v","type":"quantitative","axis":{"orient":"right","values":[0.002,0.003,0.004,0.005,0.006,0.007,0.008,0.009,0.01,0.02,0.03,0.04,0.05,0.06,0.07,0.08,0.09,0.1,0.2,0.3,0.4,0.5,0.6,0.7,0.8,0.9,1],"labels":false,"title":null,"domain":false,"grid":false,"tickSize":-6,"tickWidth":2,"tickColor":"black","zindex":1}},
  "stroke":{"field":"s","type":"nominal","scale":{"domain":["f1","f2","f3","f4"],"range":["#0000ff","#00ff00","#ff0000","#ff00ff"]},
   "legend":{"orient":"none","legendX":112.5,"legendY":108,"title":null,"padding":0,"symbolType":"M-4,0L4,0","symbolSize":100,"symbolStrokeWidth":4,"labelFont":"Liberation Sans","labelFontSize":17.4,"labelColor":"black","labelOffset":15.5,"rowPadding":-0.5,"labelLimit":1000,
    "labelExpr":"datum.label === 'f1' ? '1LL1 [I(t) =1.07exp(-t/41.58 ns)+0.088exp(-t/549 ns)+0.023exp(-t/3559 ns)+0.00351]' : datum.label === 'f2' ? '1LCa1 [ I(t) =1.10exp(-t/41.83 ns)+ 0.093exp(-t/551 ns)+ 0.026exp(-t/2985 ns)+ 0.00282]' : datum.label === 'f3' ? '1LCa3 [ I(t) =1.15exp(-t/44.06 ns)+0.058exp(-t/597 ns)+0.00441]' : '1LCa5 [I(t) =1.61exp(-t/10.92 ns)+0.364exp(-t/40.03 ns)+0.00204]'"}}
 }},
{"data":{"name":"pulse"},
 "mark":{"type":"line","strokeWidth":3.5,"clip":true},
 "encoding":{
  "x":{"field":"t","type":"quantitative","axis":null},
  "y":{"field":"v","type":"quantitative","axis":null},
  "color":{"field":"s","type":"nominal","scale":{"domain":["pulse"],"range":["#00ff00"]},
   "legend":{"orient":"none","legendX":112.5,"legendY":6.5,"title":null,"padding":0,"symbolType":"M-4,0L4,0","symbolSize":100,"symbolStrokeWidth":4,"labelFont":"Liberation Sans","labelFontSize":17.4,"labelColor":"black","labelOffset":15.5,"labelLimit":1000}}
 }},
{"data":{"values":[{}]},
 "mark":{"type":"text","text":"Lu₃Al₅O₁₂:Ce, Ca","align":"center","baseline":"alphabetic","fontSize":52,"fontWeight":"bold","font":"Liberation Sans","color":"black"},
 "encoding":{"x":{"datum":3800,"type":"quantitative","axis":null},"y":{"datum":1.285,"type":"quantitative","axis":null}}},
{"data":{"values":[{}]},
 "mark":{"type":"text","text":"Ca co-doping","align":"left","baseline":"alphabetic","fontSize":49,"font":"Liberation Sans","color":"black"},
 "encoding":{"x":{"datum":1085,"type":"quantitative","axis":null},"y":{"datum":0.043,"type":"quantitative","axis":null}}},
{"data":{"values":[{}]},
 "mark":{"type":"text","text":"Am, 5 mV","align":"left","baseline":"alphabetic","fontSize":49,"fontWeight":"bold","font":"Liberation Sans","color":"#7030a0"},
 "encoding":{"x":{"datum":5134,"type":"quantitative","axis":null},"y":{"datum":0.0666,"type":"quantitative","axis":null}}},
{"data":{"values":[{}]},
 "mark":{"type":"text","text":"241","align":"left","baseline":"alphabetic","fontSize":32,"fontWeight":"bold","font":"Liberation Sans","color":"#7030a0"},
 "encoding":{"x":{"datum":4547,"type":"quantitative","axis":null},"y":{"datum":0.0779,"type":"quantitative","axis":null}}}
]
}
